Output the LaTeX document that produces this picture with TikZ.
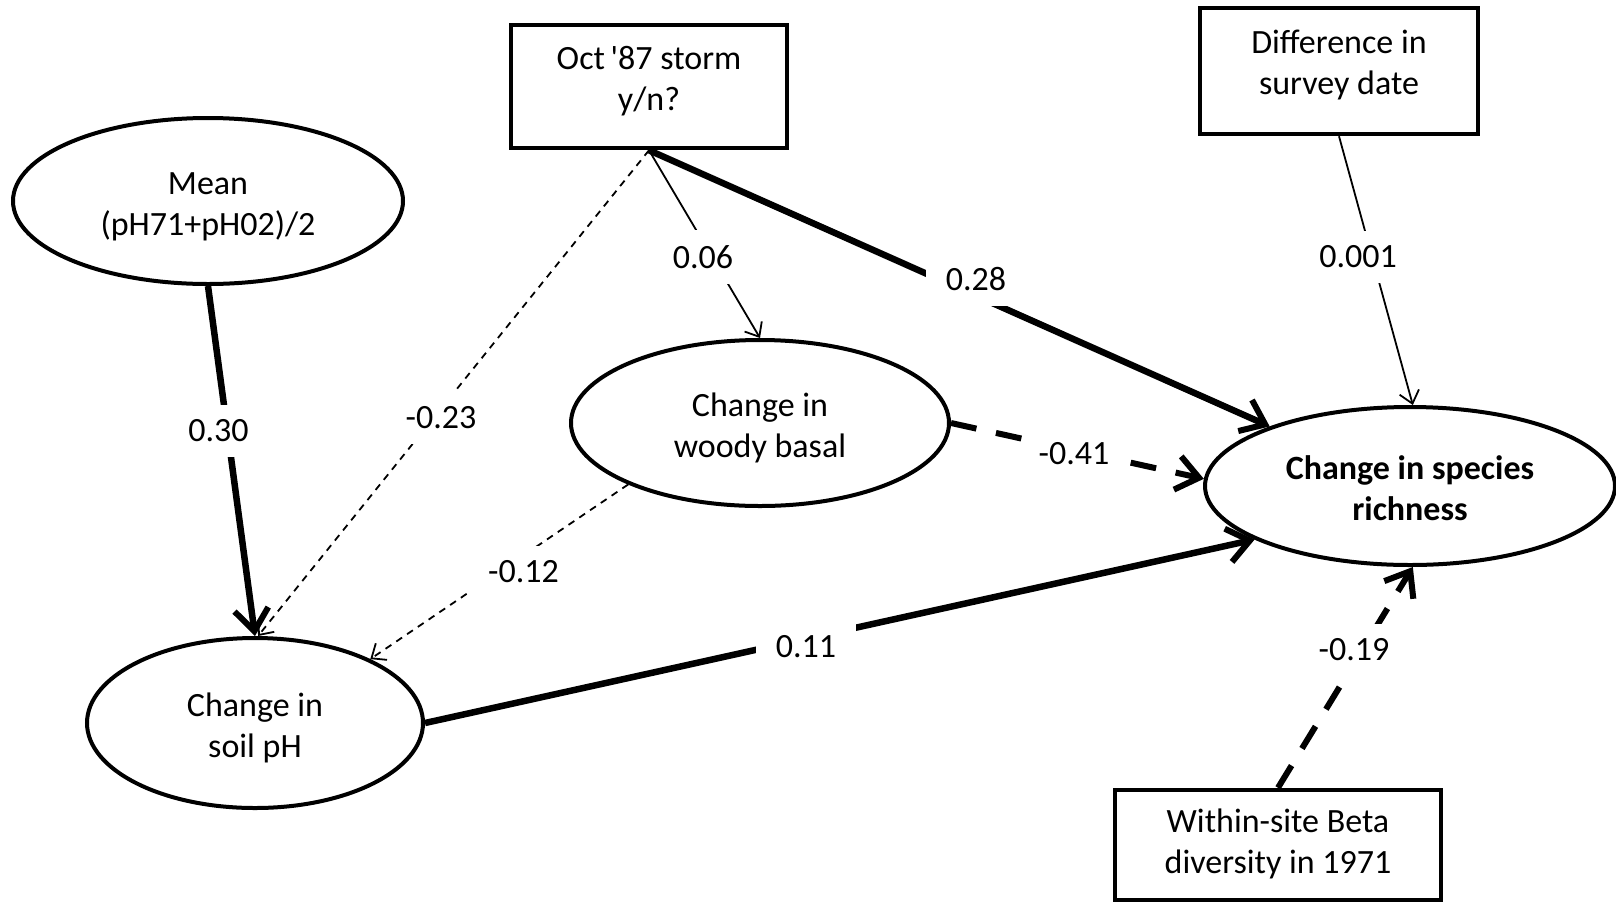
\documentclass[tikz,border=0pt]{standalone}
\usepackage{fontspec}
\setmainfont{Carlito}
\usetikzlibrary{shapes.geometric,arrows.meta}
\begin{document}
\begin{tikzpicture}[x=1pt,y=-1pt,
  every node/.style={font=\fontsize{34}{41}\selectfont, align=center},
  box/.style={draw, line width=4.5pt, inner sep=0pt, rectangle, text depth=0pt, text height=47pt},
  ell/.style={draw, line width=4pt, ellipse, inner sep=0pt, text depth=0pt, text height=68pt},
  lbl/.style={fill=white, inner xsep=20pt, inner ysep=15pt},
  thickarr/.style={line width=6.5pt, -{Straight Barb[length=22pt,width=34pt,line width=6pt]}},
  thinarr/.style={line width=1.8pt, -{Straight Barb[length=12pt,width=20pt,line width=1.8pt]}},
  thindash/.style={thinarr, dash pattern=on 7pt off 6pt},
  thickdash/.style={line width=6pt, dash pattern=on 26pt off 20pt, -{Straight Barb[length=22pt,width=34pt,line width=6pt]}}
]
\useasboundingbox (0,0) rectangle (1616,903);
\fill[white] (0,0) rectangle (1616,903);

\node[box, minimum width=276pt, minimum height=123pt] (storm) at (649,86.5) {Oct\,\textquotesingle87 storm\\y/n?};
\node[box, minimum width=278pt, minimum height=126pt] (diff) at (1339,71) {Difference in\\survey date};
\node[box, minimum width=326pt, minimum height=110pt, text height=56pt] (within) at (1278,845) {Within-site Beta\\diversity in 1971};

\node[ell, minimum width=390pt, minimum height=166pt] (mean) at (208,201) {Mean\\(pH71+pH02)/2};
\node[ell, minimum width=378pt, minimum height=166pt] (woody) at (760,423) {Change in\\woody basal};
\node[ell, minimum width=336pt, minimum height=170pt] (soil) at (255,723) {Change in\\soil pH};
\node[ell, minimum width=410pt, minimum height=158pt] (species) at (1410,486) {\bfseries Change in species\\\bfseries richness};

\draw[thickarr] (mean.south) -- (soil.north);
\draw[thindash] (storm.south) -- (soil.88);
\draw[thinarr] (storm.south) -- (woody.north);
\draw[thickarr] (storm.south) -- (species.157);
\draw[thinarr] (diff.south) -- (species.88);
\draw[thickdash] (woody.east) -- (species.178);
\draw[thindash] (woody.205) -- (soil.29);
\draw[thickarr] (soil.east) -- (species.199);
\draw[thickdash] (within.north) -- (species.272);

\node[lbl] (l1) at (218.5,431) {0.30};
\node[lbl] (l2) at (703,257) {0.06};
\node[lbl] (l3) at (976,279) {0.28};
\node[lbl] (l4) at (1358,257) {0.001};
\node[lbl] (l5) at (441,418) {-0.23};
\node[lbl, inner xsep=16pt] (l6) at (1074,454) {-0.41};
\node[lbl] (l7) at (523.5,572) {-0.12};
\node[lbl] (l8) at (806,647) {0.11};
\node[lbl] (l9) at (1354,650) {-0.19};
\end{tikzpicture}
\end{document}
